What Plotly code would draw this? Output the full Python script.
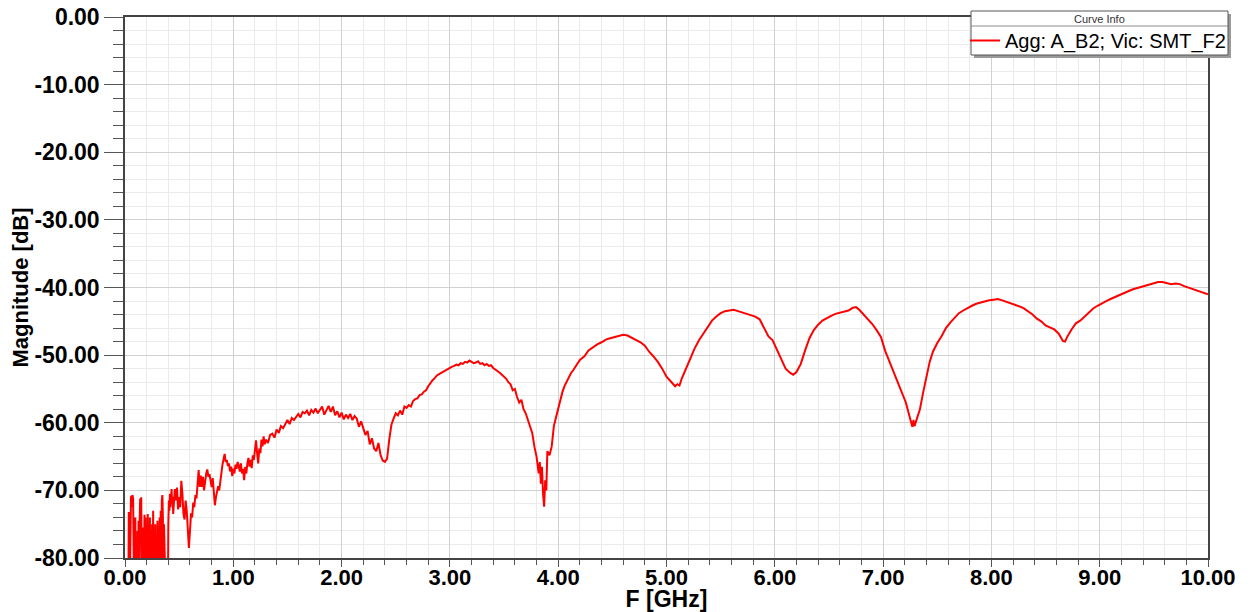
import plotly.graph_objects as go

# ---------------- data ----------------
FREQ_GHZ = [
    0.030, 0.035, 0.040, 0.045, 0.050, 0.055, 0.060, 0.065, 0.070, 0.075, 0.080, 0.085, 0.090, 0.095,
    0.100, 0.105, 0.110, 0.115, 0.120, 0.125, 0.130, 0.135, 0.140, 0.145, 0.150, 0.155, 0.160, 0.165,
    0.170, 0.175, 0.180, 0.185, 0.190, 0.195, 0.200, 0.205, 0.210, 0.215, 0.220, 0.225, 0.230, 0.235,
    0.240, 0.245, 0.250, 0.255, 0.260, 0.265, 0.270, 0.275, 0.280, 0.285, 0.290, 0.295, 0.300, 0.305,
    0.310, 0.315, 0.320, 0.325, 0.330, 0.335, 0.340, 0.345, 0.350, 0.355, 0.360, 0.365, 0.370, 0.375,
    0.380, 0.385, 0.390, 0.395, 0.400, 0.405, 0.410, 0.415, 0.420, 0.425, 0.430, 0.435, 0.440, 0.445,
    0.450,
    0.46, 0.47, 0.48, 0.49, 0.50, 0.51, 0.52, 0.53,
    0.54, 0.55, 0.56, 0.57, 0.58, 0.59, 0.60, 0.61, 0.62, 0.63, 0.64, 0.65, 0.66, 0.67, 0.68, 0.69, 0.70,
    0.71, 0.72, 0.73, 0.74, 0.75, 0.76, 0.77, 0.78, 0.79, 0.80, 0.81, 0.82, 0.83, 0.84, 0.85, 0.86, 0.87,
    0.88, 0.89, 0.90, 0.91, 0.92, 0.93, 0.94, 0.95, 0.96, 0.97, 0.98, 0.99, 1.00, 1.01, 1.02, 1.03, 1.04,
    1.05, 1.06, 1.07, 1.08, 1.09, 1.10, 1.11, 1.12, 1.13, 1.14, 1.15, 1.16, 1.17, 1.18, 1.19, 1.20, 1.21,
    1.22, 1.23, 1.24, 1.25, 1.26, 1.27, 1.28, 1.29, 1.30,
    1.32, 1.34, 1.36, 1.38, 1.40, 1.42, 1.44, 1.46, 1.48, 1.50, 1.52, 1.54, 1.56, 1.58, 1.60, 1.62, 1.64,
    1.66, 1.68, 1.70, 1.72, 1.74, 1.76, 1.78, 1.80, 1.82, 1.84, 1.86, 1.88, 1.90, 1.92, 1.94, 1.96, 1.98,
    2.00, 2.02, 2.04, 2.06, 2.08, 2.10, 2.12, 2.14, 2.16, 2.18, 2.20, 2.22, 2.24, 2.26, 2.28, 2.30, 2.32,
    2.34, 2.36, 2.38, 2.40, 2.42, 2.44, 2.46, 2.48, 2.50, 2.52, 2.54, 2.56, 2.58, 2.60,
    2.62, 2.64, 2.66, 2.68, 2.70, 2.72, 2.74, 2.76, 2.78, 2.80, 2.82, 2.84, 2.86, 2.88, 2.90, 2.92, 2.94,
    2.96, 2.98, 3.00, 3.02, 3.04, 3.06, 3.08, 3.10, 3.12, 3.14, 3.16, 3.18, 3.20, 3.22, 3.24, 3.26, 3.28,
    3.30, 3.32, 3.34, 3.36, 3.38, 3.40, 3.42, 3.44, 3.46, 3.48, 3.50, 3.52, 3.54, 3.56, 3.58, 3.60, 3.62,
    3.64, 3.66, 3.68, 3.70, 3.72, 3.74, 3.76, 3.78, 3.80, 3.82, 3.83, 3.84, 3.85, 3.86, 3.87, 3.88, 3.89,
    3.90, 3.92, 3.94, 3.96, 3.98, 4.00, 4.02, 4.04, 4.06, 4.08, 4.10, 4.12, 4.14, 4.16, 4.18, 4.20,
    4.24, 4.28, 4.32, 4.36, 4.40, 4.44, 4.48, 4.52, 4.56, 4.60, 4.64, 4.68, 4.72, 4.76, 4.80, 4.84, 4.88,
    4.92, 4.96, 5.00, 5.04, 5.06, 5.08, 5.10, 5.12, 5.14, 5.18, 5.22, 5.26, 5.30, 5.34, 5.38, 5.42, 5.46,
    5.50, 5.54, 5.58, 5.62, 5.66, 5.70, 5.74, 5.78, 5.82, 5.86, 5.90, 5.94, 5.98, 6.02, 6.06, 6.10, 6.14,
    6.17, 6.20, 6.24, 6.28, 6.32, 6.36, 6.40, 6.44, 6.48, 6.52, 6.56, 6.60, 6.64, 6.68, 6.72, 6.75, 6.78,
    6.82, 6.86, 6.90, 6.94, 6.98, 7.02, 7.06, 7.10, 7.14, 7.18, 7.21, 7.24, 7.26, 7.27, 7.28, 7.29, 7.31,
    7.34, 7.37, 7.40, 7.43, 7.46, 7.50, 7.54, 7.58, 7.62, 7.66, 7.70, 7.74, 7.78, 7.82, 7.86, 7.90, 7.94,
    7.98, 8.02, 8.06, 8.10, 8.14, 8.18, 8.22, 8.26, 8.30, 8.34, 8.38, 8.42, 8.46, 8.50, 8.54, 8.58, 8.62,
    8.66, 8.68, 8.70, 8.74, 8.78, 8.82, 8.86, 8.90, 8.94, 8.98, 9.02, 9.06, 9.10, 9.14, 9.18, 9.22, 9.26,
    9.30, 9.34, 9.38, 9.42, 9.46, 9.50, 9.54, 9.58, 9.62, 9.66, 9.70, 9.74, 9.78, 9.82, 9.86, 9.90, 9.94,
    9.98, 10.00,
]

MAGNITUDE_DB = [
    -88.0, -73.2, -76.0, -84.0, -72.0, -71.0, -70.8, -72.5, -70.7, -71.3, -79.0, -90.0, -84.0, -74.0,
    -86.0, -80.0, -88.0, -76.0, -83.0, -74.5, -87.0, -75.0, -71.2, -78.0, -71.0, -85.0, -76.5, -89.0,
    -75.5, -82.0, -73.6, -86.0, -74.0, -90.0, -77.0, -84.0, -73.5, -88.0, -75.0, -81.0, -74.0, -90.0,
    -76.0, -85.0, -75.0, -82.0, -73.0, -89.0, -77.0, -84.0, -75.0, -90.0, -78.0, -86.0, -74.5, -83.0,
    -76.0, -88.0, -74.0, -85.0, -73.0, -80.0, -71.5, -70.7, -74.0, -86.0, -75.0, -82.0, -90.0, -84.0,
    -88.0, -92.0, -86.0, -90.0, -75.0, -71.5, -73.0, -70.5, -72.5, -71.0, -69.8, -72.0, -71.0, -73.5,
    -72.5,
    -69.8, -71.5, -69.6, -72.8, -71.0, -72.5, -68.6, -70.5,
    -73.5, -74.3, -71.5, -73.0, -75.5, -78.5, -76.0, -73.4, -74.0, -71.8, -72.5, -70.7, -71.2, -68.5, -67.0, -69.5, -67.8,
    -69.5, -68.0, -70.0, -68.3, -67.5, -66.9, -68.0, -67.6, -68.8, -69.5, -68.2, -70.5, -72.2, -71.0, -70.2, -69.4, -70.0,
    -68.5, -67.0, -66.2, -65.4, -64.6, -65.8, -65.5, -66.4, -66.0, -67.2, -66.5, -67.9, -66.8, -67.5, -66.2, -66.8, -65.8,
    -66.4, -67.2, -66.0, -67.5, -66.8, -68.5, -66.5, -67.5, -66.0, -65.2, -66.5, -65.5, -66.7, -64.8, -65.5, -63.3, -62.6,
    -64.5, -66.0, -63.8, -64.5, -62.5, -63.5, -62.0, -63.2, -62.5,
    -63.0, -61.8, -61.6, -62.2, -61.0, -61.5, -60.5, -60.8, -60.1, -59.6, -60.2, -59.3, -59.6, -59.1, -58.7, -59.2, -58.4,
    -58.6, -58.2, -58.9, -58.1, -58.5, -57.9, -58.6, -58.1, -57.6, -58.8, -58.0, -57.5, -58.4, -57.6, -58.9, -58.3, -59.2,
    -58.5, -59.5, -58.8, -59.3, -58.7, -59.6, -59.0, -59.4, -60.6, -59.8, -60.7, -61.8, -61.2, -63.2, -62.3, -63.8, -64.2,
    -63.0, -64.8, -65.6, -65.8, -65.3, -62.5, -60.3, -59.4, -58.6, -58.9, -58.2, -58.8, -57.6, -57.8,
    -57.4, -57.6, -56.8, -56.5, -56.4, -55.9, -55.8, -55.4, -55.2, -54.6, -54.1, -53.7, -53.4, -53.0, -52.8, -52.6, -52.4,
    -52.2, -52.0, -51.9, -51.7, -51.6, -51.4, -51.5, -51.2, -51.3, -51.0, -51.1, -50.8, -51.0, -51.2, -51.1, -50.9, -51.3,
    -51.2, -51.5, -51.3, -51.6, -51.5, -51.9, -52.1, -52.3, -52.6, -52.9, -53.2, -53.5, -54.0, -54.3, -55.2, -55.0, -56.2,
    -57.0, -56.6, -58.0, -58.6, -59.5, -60.5, -61.5, -63.5, -65.0, -67.5, -65.8, -69.0, -66.5, -70.5, -72.4, -68.5, -70.0,
    -64.2, -64.8, -63.5, -60.5, -59.2, -57.8, -56.8, -55.4, -54.5, -53.8, -53.2, -52.6, -52.2, -51.6, -51.2, -50.7,
    -50.2, -49.3, -48.8, -48.4, -48.1, -47.7, -47.5, -47.3, -47.1, -47.0, -47.1, -47.4, -47.7, -48.1, -48.6, -49.5, -50.2,
    -51.0, -52.0, -53.2, -53.9, -54.2, -54.6, -54.3, -54.5, -53.5, -52.0, -50.4, -49.0, -47.8, -46.8, -45.8, -44.9, -44.3,
    -43.8, -43.5, -43.4, -43.3, -43.5, -43.7, -43.9, -44.1, -44.3, -44.7, -46.0, -47.2, -47.8, -49.2, -50.6, -52.0, -52.6,
    -52.9, -52.5, -51.3, -49.3, -47.5, -46.3, -45.5, -44.9, -44.5, -44.2, -43.9, -43.7, -43.6, -43.4, -43.0, -42.9, -43.3,
    -44.0, -44.7, -45.4, -46.3, -47.3, -49.4, -51.0, -52.5, -54.3, -55.8, -57.0, -58.8, -60.0, -60.6, -59.6, -60.5, -59.5,
    -58.0, -55.5, -53.2, -51.0, -49.5, -48.2, -47.2, -46.0, -45.2, -44.5, -43.8, -43.4, -43.0, -42.7, -42.4, -42.2, -42.0,
    -41.9, -41.8, -41.7, -41.9, -42.1, -42.3, -42.5, -42.8, -43.1, -43.5, -44.0, -44.6, -45.0, -45.6, -45.9, -46.2, -46.8,
    -47.9, -48.0, -47.3, -46.2, -45.3, -44.9, -44.3, -43.7, -43.1, -42.7, -42.3, -42.0, -41.7, -41.4, -41.1, -40.8, -40.5,
    -40.3, -40.1, -39.9, -39.7, -39.5, -39.4, -39.2, -39.2, -39.4, -39.5, -39.4, -39.5, -39.8, -40.0, -40.3, -40.5, -40.6,
    -40.9, -41.0,
]

X_TICK_VALUES = [0, 1, 2, 3, 4, 5, 6, 7, 8, 9, 10]
X_TICK_LABELS = ["0.00", "1.00", "2.00", "3.00", "4.00", "5.00", "6.00", "7.00", "8.00", "9.00", "10.00"]
Y_TICK_VALUES = [0, -10, -20, -30, -40, -50, -60, -70, -80]
Y_TICK_LABELS = ["0.00", "-10.00", "-20.00", "-30.00", "-40.00", "-50.00", "-60.00", "-70.00", "-80.00"]

SERIES_NAME = "Agg: A_B2; Vic: SMT_F2"
LEGEND_TITLE = "Curve Info"
X_TITLE = "F [GHz]"
Y_TITLE = "Magnitude [dB]"

# ---------------- figure ----------------
FONT = "Liberation Sans, Arial, sans-serif"

# page layout: the html body has an 8 px margin before the figure
BODY = 8
PAGE_W, PAGE_H = 1251, 612
FIG_W, FIG_H = PAGE_W - BODY, PAGE_H - BODY
PLOT_L, PLOT_R, PLOT_T, PLOT_B = 125, 1208, 17, 558   # page pixels


def px_x(px):
    return (px - PLOT_L) / (PLOT_R - PLOT_L)


def px_y(py):
    return (PLOT_B - py) / (PLOT_B - PLOT_T)


fig = go.Figure()
fig.add_trace(go.Scatter(
    x=FREQ_GHZ, y=MAGNITUDE_DB, mode="lines", name=SERIES_NAME,
    line=dict(color="#ff0000", width=2),
))

axis_common = dict(
    showline=True, linecolor="#444444", linewidth=1.5, mirror=True,
    ticks="outside", tickcolor="#555555", tickwidth=1,
    showgrid=True, gridcolor="#d0d0d0", gridwidth=1,
    zeroline=False,
    tickmode="array",
    ticklabeloverflow="allow",
)

fig.update_xaxes(
    **axis_common,
    range=[0, 10], tickvals=X_TICK_VALUES, ticktext=X_TICK_LABELS, ticklen=7,
    tickfont=dict(family=FONT, size=22, color="#000000", weight="bold"),
    ticklabelstandoff=-8,
    minor=dict(tickmode="linear", tick0=0, dtick=0.2, ticklen=5, tickcolor="#555555",
               showgrid=True, gridcolor="#ebebeb", gridwidth=1),
    title=dict(text=X_TITLE, font=dict(family=FONT, size=23, color="#000000", weight="bold"), standoff=14),
)
fig.update_yaxes(
    **axis_common,
    range=[-80, 0], tickvals=Y_TICK_VALUES, ticktext=Y_TICK_LABELS, ticklen=19,
    tickfont=dict(family=FONT, size=23, color="#000000", weight="bold"),
    minor=dict(tickmode="linear", tick0=0, dtick=2, ticklen=10, tickcolor="#555555",
               showgrid=True, gridcolor="#ebebeb", gridwidth=1),
    title=dict(text=Y_TITLE, font=dict(family=FONT, size=22, color="#000000", weight="bold"), standoff=0),
)

# legend frame ("Curve Info") in paper coordinates
LX0, LX1, LY0, LY1 = 971, 1228, 11, 55
fig.add_shape(type="rect", xref="paper", yref="paper",
              x0=px_x(LX0 + 3), x1=px_x(LX1 + 3), y0=px_y(LY0 + 3), y1=px_y(LY1 + 3),
              fillcolor="#9a9a9a", line=dict(width=0), layer="above")
fig.add_shape(type="rect", xref="paper", yref="paper",
              x0=px_x(LX0), x1=px_x(LX1), y0=px_y(LY0), y1=px_y(LY1),
              fillcolor="#ffffff", line=dict(color="#555555", width=1), layer="above")
fig.add_shape(type="line", xref="paper", yref="paper",
              x0=px_x(LX0), x1=px_x(LX1), y0=px_y(26), y1=px_y(26),
              line=dict(color="#8a8a8a", width=1), layer="above")
fig.add_annotation(xref="paper", yref="paper", x=px_x((LX0 + LX1) / 2), y=px_y(18.5),
                   text=LEGEND_TITLE, showarrow=False, xanchor="center", yanchor="middle",
                   font=dict(family=FONT, size=11, color="#333333"))

fig.update_layout(
    width=FIG_W, height=FIG_H,
    margin=dict(l=PLOT_L - BODY, r=FIG_W + BODY - PLOT_R, t=PLOT_T - BODY, b=FIG_H + BODY - PLOT_B,
                autoexpand=False),
    paper_bgcolor="#ffffff", plot_bgcolor="#ffffff",
    showlegend=True,
    legend=dict(
        x=px_x(965), y=px_y(21), xanchor="left", yanchor="top",
        bgcolor="rgba(0,0,0,0)", borderwidth=0,
        font=dict(family=FONT, size=20, color="#000000"),
        itemwidth=30, tracegroupgap=0,
    ),
)

fig.write_html("out.html")
